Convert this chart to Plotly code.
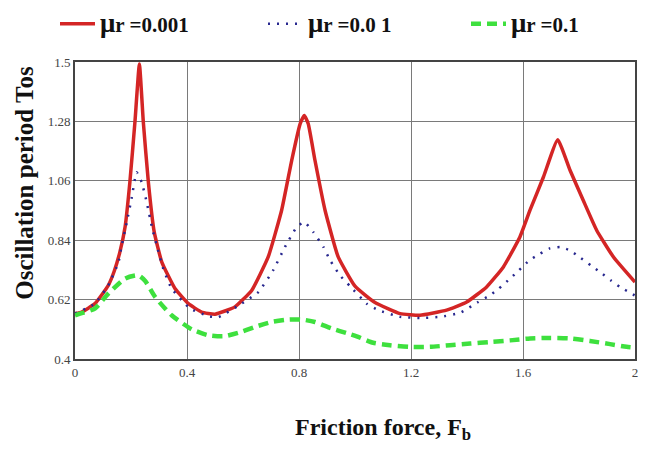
import plotly.graph_objects as go

# Friction force values and oscillation periods
x_red = [0, 0.024, 0.071, 0.119, 0.14, 0.16, 0.179, 0.196, 0.214, 0.230, 0.244, 0.262, 0.283, 0.310, 0.357,
         0.405, 0.452, 0.5, 0.571, 0.631, 0.69, 0.738, 0.774, 0.804, 0.819, 0.833, 0.857, 0.893,
         0.94, 1.0, 1.07, 1.161, 1.232, 1.327, 1.399, 1.470, 1.530, 1.589, 1.625, 1.673, 1.724,
         1.768, 1.815, 1.863, 1.923, 2.0]
y_red = [0.568, 0.574, 0.605, 0.673, 0.725, 0.795, 0.890, 1.055, 1.277, 1.493, 1.277, 1.055, 0.870, 0.759,
         0.661, 0.605, 0.574, 0.566, 0.593, 0.654, 0.778, 0.951, 1.136, 1.271, 1.302, 1.271, 1.136,
         0.951, 0.778, 0.67, 0.61, 0.568, 0.562, 0.581, 0.611, 0.667, 0.741, 0.852, 0.951, 1.074,
         1.212, 1.099, 0.988, 0.877, 0.778, 0.685]

x_blue = [0, 0.071, 0.119, 0.155, 0.167, 0.185, 0.202, 0.220, 0.238, 0.256, 0.276, 0.298, 0.315, 0.345,
          0.411, 0.476, 0.512, 0.595, 0.655, 0.708, 0.75, 0.792, 0.819, 0.851, 0.887, 0.911, 0.946,
          0.982, 1.042, 1.083, 1.161, 1.232, 1.304, 1.375, 1.44, 1.482, 1.514, 1.554, 1.586, 1.623,
          1.661, 1.694, 1.732, 1.766, 1.801, 1.842, 1.875, 1.913, 1.946, 1.988, 2.0]
y_blue = [0.568, 0.605, 0.673, 0.757, 0.821, 0.907, 0.994, 1.092, 1.055, 0.981, 0.883, 0.797, 0.735,
          0.661, 0.587, 0.559, 0.555, 0.605, 0.648, 0.729, 0.815, 0.889, 0.907, 0.870, 0.815, 0.766,
          0.710, 0.67, 0.605, 0.581, 0.556, 0.552, 0.556, 0.571, 0.611, 0.636, 0.661, 0.698, 0.729,
          0.766, 0.79, 0.809, 0.815, 0.803, 0.778, 0.747, 0.722, 0.692, 0.667, 0.642, 0.635]

x_green = [0, 0.018, 0.071, 0.119, 0.179, 0.226, 0.25, 0.286, 0.345, 0.417, 0.476, 0.53, 0.583, 0.643,
           0.702, 0.762, 0.81, 0.857, 0.917, 0.976, 1.006, 1.065, 1.125, 1.196, 1.268, 1.339, 1.411,
           1.482, 1.554, 1.625, 1.696, 1.768, 1.839, 1.911, 1.97, 2.0]
y_green = [0.562, 0.568, 0.587, 0.642, 0.698, 0.710, 0.69, 0.630, 0.562, 0.510, 0.488, 0.484, 0.497,
           0.519, 0.537, 0.546, 0.546, 0.537, 0.513, 0.494, 0.484, 0.460, 0.451, 0.445, 0.445, 0.451,
           0.457, 0.463, 0.469, 0.476, 0.478, 0.476, 0.467, 0.455, 0.445, 0.442]

x_ticks = [0, 0.4, 0.8, 1.2, 1.6, 2]
x_tick_labels = ["0", "0.4", "0.8", "1.2", "1.6", "2"]
y_ticks = [0.4, 0.62, 0.84, 1.06, 1.28, 1.5]
y_tick_labels = ["0.4", "0.62", "0.84", "1.06", "1.28", "1.5"]

series_names = ["<b><span style='font-size:27px'>μ</span>r =0.001</b>",
                "<b><span style='font-size:27px'>μ</span>r =0.0 1</b>",
                "<b><span style='font-size:27px'>μ</span>r =0.1</b>"]
x_title = "<b>Friction force, F<sub>b</sub></b>"
y_title = "<b>Oscillation period Tos</b>"

serif = "Liberation Serif, Times New Roman, serif"

fig = go.Figure()
fig.add_trace(go.Scatter(x=x_red, y=y_red, mode="lines", name=series_names[0], legend="legend",
                         line=dict(color="#d42525", width=3.5, shape="spline", smoothing=0.4)))
fig.add_trace(go.Scatter(x=x_blue, y=y_blue, mode="lines", name=series_names[1], legend="legend2",
                         line=dict(color="#28288f", width=2.5, dash="2px,7px", shape="spline", smoothing=0.4)))
fig.add_trace(go.Scatter(x=x_green, y=y_green, mode="lines", name=series_names[2], legend="legend3",
                         line=dict(color="#3ee03e", width=4.5, dash="10px,6px", shape="spline", smoothing=0.6)))

def leg(xpx):
    return dict(orientation="h", x=xpx / 650, y=1 - 16 / 452, xref="container", yref="container",
                xanchor="left", yanchor="middle", itemwidth=35,
                font=dict(family=serif, size=21, color="#111"), bgcolor="rgba(0,0,0,0)")

axis_common = dict(showgrid=True, gridcolor="#7a7a7a", gridwidth=1.2, zeroline=False, showline=True,
                   mirror=True, linecolor="#444", linewidth=2, ticks="",
                   tickfont=dict(family=serif, size=13, color="#444"))

fig.update_layout(
    width=650, height=452,
    margin=dict(l=67, r=23, t=54, b=101, autoexpand=False),
    paper_bgcolor="white", plot_bgcolor="white",
    font=dict(family=serif, color="#222"),
    showlegend=True,
    legend=leg(47), legend2=leg(255), legend3=leg(458),
    xaxis=dict(range=[0, 2], tickvals=x_ticks, ticktext=x_tick_labels, **axis_common),
    yaxis=dict(range=[0.4, 1.5], tickvals=y_ticks, ticktext=y_tick_labels, **axis_common),
    annotations=[
        dict(text=x_title, x=0.55, y=-0.235, xref="paper", yref="paper", showarrow=False,
             xanchor="center", yanchor="middle", font=dict(family=serif, size=24, color="#111")),
        dict(text=y_title, x=-0.09, y=0.592, xref="paper", yref="paper", showarrow=False,
             textangle=-90, xanchor="center", yanchor="middle",
             font=dict(family=serif, size=25, color="#111")),
    ],
)

fig.write_html("out.html")
